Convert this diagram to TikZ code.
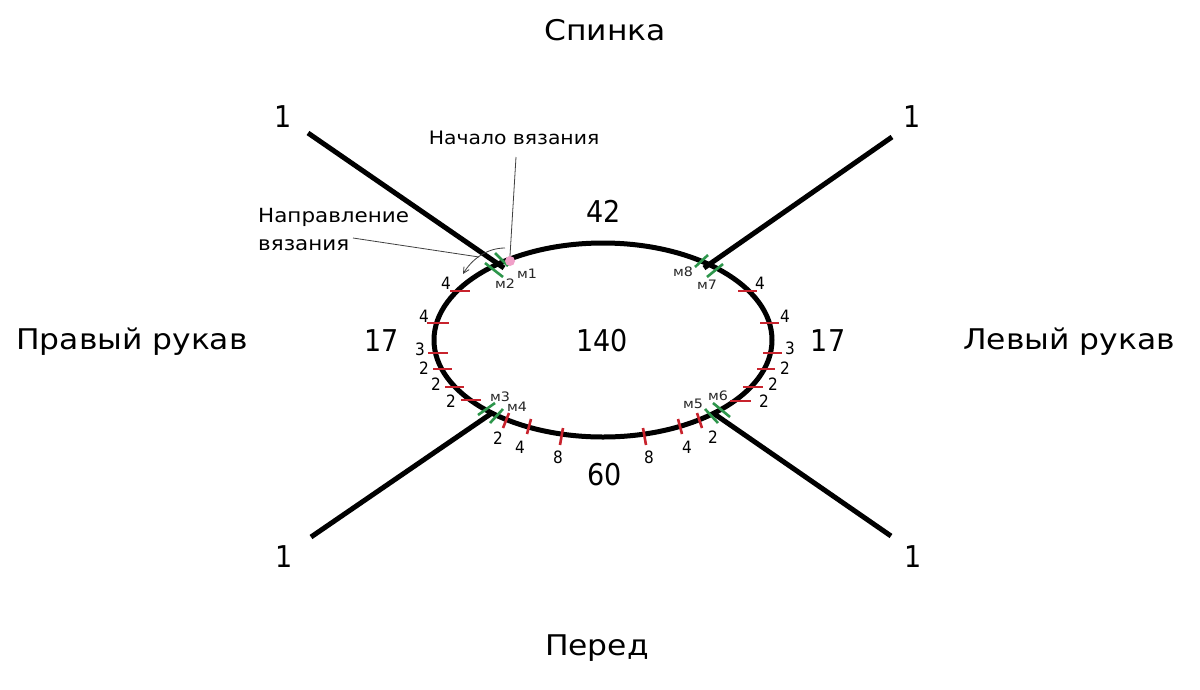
\documentclass[tikz,border=0pt]{standalone}
\usepackage{fontspec}
\setmainfont{DejaVu Sans}[FakeStretch=1.1]
\newfontfamily\numfont{DejaVu Sans}[FakeStretch=0.9]
\usetikzlibrary{arrows.meta}
\definecolor{tickred}{RGB}{200,35,45}
\definecolor{tickgreen}{RGB}{45,150,75}
\definecolor{dotpink}{RGB}{240,160,200}
\begin{document}
\begin{tikzpicture}[x=1pt,y=-1pt,
  big/.style={font=\fontsize{28.5}{28.5}\selectfont, inner sep=0},
  num/.style={font=\numfont\fontsize{30}{30}\selectfont, inner sep=0},
  small/.style={font=\fontsize{18.5}{27}\selectfont, inner sep=0},
  tnum/.style={font=\numfont\fontsize{17}{17}\selectfont, inner sep=0},
  mlab/.style={font=\fontsize{13}{13}\selectfont, inner sep=0, text=black!85},
  arm/.style={line width=5pt, black},
  rtick/.style={line width=2.6pt, tickred},
  gtick/.style={line width=2.6pt, tickgreen},
  pointer/.style={line width=0.8pt, black!75},
]
\useasboundingbox (0,0) rectangle (1200,689);
\fill[white] (0,0) rectangle (1200,689);

% titles
\node[big] (back) at (605,30) {Спинка};
\node[big] (front) at (597,648) {Перед};
\node[big] (rsleeve) at (132,342) {Правый рукав};
\node[big] (lsleeve) at (1069,342) {Левый рукав};

% ones
\node[num] (o1) at (283,117) {1};
\node[num] (o2) at (912,117) {1};
\node[num] (o3) at (284,557) {1};
\node[num] (o4) at (913,557) {1};

% counts
\node[num] (n42) at (604,211) {42};
\node[num] (n17l) at (382,341) {17};
\node[num] (n17r) at (828,341) {17};
\node[num] (n140) at (602,341) {140};
\node[num] (n60) at (605,475) {60};

% arms
\coordinate (a1s) at (308,133); \coordinate (a1e) at (504,268);
\coordinate (a2s) at (892,137); \coordinate (a2e) at (704,268);
\coordinate (a3s) at (311,537); \coordinate (a3e) at (492,413);
\coordinate (a4s) at (891,536); \coordinate (a4e) at (713,413);
\draw[arm] (a1s) -- (a1e);
\draw[arm] (a2s) -- (a2e);
\draw[arm] (a3s) -- (a3e);
\draw[arm] (a4s) -- (a4e);

% yoke
\draw[line width=5pt] (603,340) ellipse [x radius=169, y radius=97];

% red ticks left
\draw[rtick] (450,291) -- (470,291);
\draw[rtick] (427,323) -- (449,323);
\draw[rtick] (428,353) -- (448,353);
\draw[rtick] (433,369) -- (452,369);
\draw[rtick] (445,387) -- (464,387);
\draw[rtick] (461,400) -- (481,400);
% red ticks right
\draw[rtick] (738,291) -- (757,291);
\draw[rtick] (760,323) -- (779,323);
\draw[rtick] (763,353) -- (782,353);
\draw[rtick] (757,369) -- (775,369);
\draw[rtick] (743,387) -- (763,387);
\draw[rtick] (730,401) -- (751,401);
% red ticks bottom
\draw[rtick] (509,413) -- (503,428);
\draw[rtick] (531,419) -- (527,434);
\draw[rtick] (563,428) -- (560,445);
\draw[rtick] (643,428) -- (646,445);
\draw[rtick] (678,419) -- (682,434);
\draw[rtick] (697,413) -- (702,428);

% green markers
\draw[gtick] (495,253) -- (508,266);
\draw[gtick] (485,263) -- (503,277);
\draw[gtick] (695,267) -- (708,255);
\draw[gtick] (707,277) -- (723,264);
\draw[gtick] (478,415) -- (495,403);
\draw[gtick] (490,423) -- (503,409);
\draw[gtick] (705,409) -- (718,423);
\draw[gtick] (713,403) -- (730,417);

% tick labels left
\node[tnum] at (446,283) {4};
\node[tnum] at (424,316) {4};
\node[tnum] at (420,349) {3};
\node[tnum] at (424,368) {2};
\node[tnum] at (436,384) {2};
\node[tnum] at (451,401) {2};
% tick labels right
\node[tnum] at (760,283) {4};
\node[tnum] at (785,316) {4};
\node[tnum] at (790,348) {3};
\node[tnum] at (785,368) {2};
\node[tnum] at (773,384) {2};
\node[tnum] at (764,401) {2};
% tick labels bottom
\node[tnum] at (498,438) {2};
\node[tnum] at (520,447) {4};
\node[tnum] at (558,457) {8};
\node[tnum] at (649,457) {8};
\node[tnum] at (687,447) {4};
\node[tnum] at (713,437) {2};

% marker labels
\node[mlab] (m1) at (527,274) {м1};
\node[mlab] (m2) at (505,284) {м2};
\node[mlab] (m3) at (500,397) {м3};
\node[mlab] (m4) at (517,407) {м4};
\node[mlab] (m5) at (693,404) {м5};
\node[mlab] (m6) at (718,396) {м6};
\node[mlab] (m7) at (707,285) {м7};
\node[mlab] (m8) at (683,272) {м8};

% start of knitting
\node[circle, fill=dotpink, minimum size=10pt, inner sep=0] (start) at (510,261) {};
\node[small] (startlab) at (514,138) {Начало вязания};
\coordinate (sp) at (516,157);
\draw[pointer] (sp) -- (start.north);

% direction of knitting
\node[small, font=\fontsize{19.5}{28}\selectfont, align=left, anchor=north west] (dirlab) at (258,208) {Направление\\вязания};
\coordinate (dp1) at (353,238); \coordinate (dp2) at (479,257);
\draw[pointer] (dp1) -- (dp2);
\coordinate (ar1) at (505,248); \coordinate (ar2) at (463,274);
\draw[pointer, -{Straight Barb[length=6pt,width=6pt]}] (ar1) .. controls (487,248) and (472,259) .. (ar2);
\end{tikzpicture}
\end{document}
